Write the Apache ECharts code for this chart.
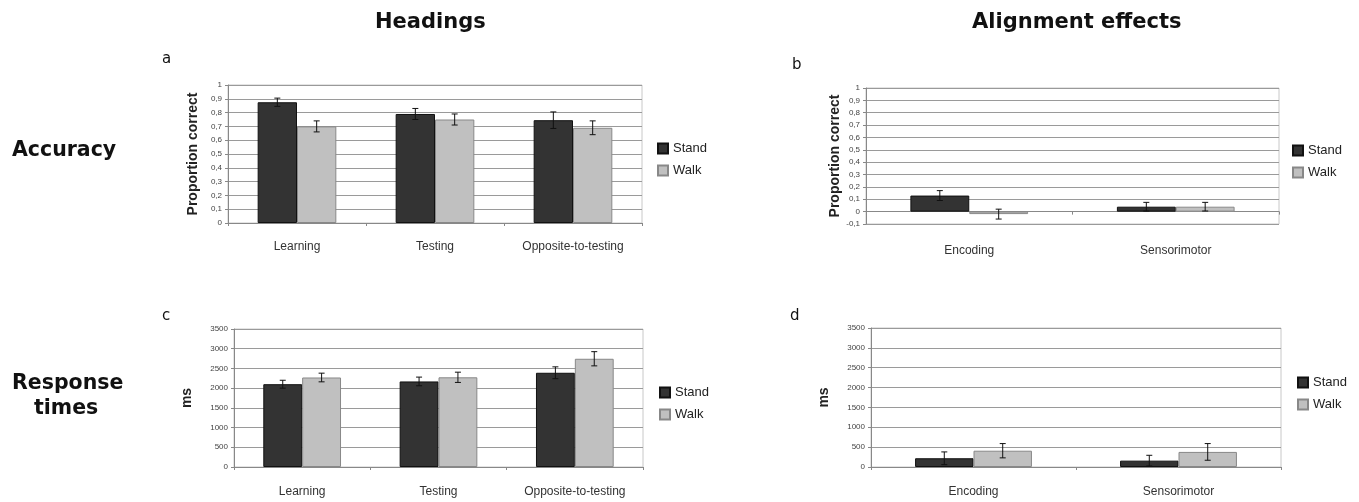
<!DOCTYPE html>
<html><head><meta charset="utf-8">
<script src="https://cdn.jsdelivr.net/npm/echarts@6/dist/echarts.min.js"></script>
<style>html,body{margin:0;padding:0;background:#fff}#c{width:1359px;height:502px}</style>
</head><body><div id="c"></div>
<script>
const headingCats = ['Learning', 'Testing', 'Opposite-to-testing'];
const alignCats = ['Encoding', 'Sensorimotor'];
const seriesNames = ['Stand', 'Walk'];

const accHeadStand = [0.875, 0.79, 0.745];
const accHeadStandErr = [0.03, 0.04, 0.06];
const accHeadWalk = [0.70, 0.75, 0.69];
const accHeadWalkErr = [0.04, 0.04, 0.05];

const accAlignStand = [0.13, 0.04];
const accAlignStandErr = [0.04, 0.035];
const accAlignWalk = [-0.02, 0.04];
const accAlignWalkErr = [0.04, 0.035];

const rtHeadStand = [2100, 2170, 2390];
const rtHeadStandErr = [100, 110, 150];
const rtHeadWalk = [2270, 2275, 2745];
const rtHeadWalkErr = [110, 130, 180];

const rtAlignStand = [220, 160];
const rtAlignStandErr = [160, 135];
const rtAlignWalk = [410, 380];
const rtAlignWalkErr = [180, 210];

const GAP = 0.43;
const FONT = '"Liberation Sans", Arial, sans-serif';
const standStyle = {color: '#333333', borderColor: '#111111', borderWidth: 1};
const walkStyle = {color: '#c0c0c0', borderColor: '#888888', borderWidth: 1};

const grids = [
  {left: 228, top: 85, width: 414, height: 138},
  {left: 866, top: 88, width: 413, height: 136},
  {left: 234, top: 329, width: 409, height: 138},
  {left: 871, top: 328, width: 410, height: 139}
].map(g => Object.assign({show: true, borderColor: '#c8c8c8', borderWidth: 1, containLabel: false}, g));

function xAx(i, cats, margin) {
  return {
    gridIndex: i, type: 'category', data: cats,
    axisLine: {show: true, onZero: true, lineStyle: {color: '#888', width: 1}},
    axisTick: {show: true, length: 3, lineStyle: {color: '#888'}},
    axisLabel: {fontFamily: FONT, fontSize: 12, color: '#333', margin: margin}
  };
}
function yAx(i, min, max, interval, name, nameGap, isDec) {
  return {
    gridIndex: i, type: 'value', min: min, max: max, interval: interval,
    name: name, nameLocation: 'middle', nameGap: nameGap, nameRotate: 90,
    nameTextStyle: {fontFamily: FONT, fontSize: 14, fontWeight: 'bold', color: '#222'},
    axisLine: {show: true, lineStyle: {color: '#888'}},
    axisTick: {show: true, length: 3, lineStyle: {color: '#888'}},
    splitLine: {show: true, lineStyle: {color: '#9a9a9a', width: 1}},
    axisLabel: {fontFamily: FONT, fontSize: 8, color: '#444', margin: 6,
      formatter: v => isDec ? String(Math.round(v * 10) / 10).replace('.', ',') : String(Math.round(v))}
  };
}

function bars(i, name, vals, style) {
  return {type: 'bar', name: name, xAxisIndex: i, yAxisIndex: i, data: vals,
    barGap: '0%', barCategoryGap: (GAP * 100) + '%', itemStyle: style, z: 2};
}
function errs(i, vals, errsArr, which) {
  return {
    type: 'custom', xAxisIndex: i, yAxisIndex: i, z: 5, silent: true,
    data: vals.map((v, k) => [k, v, errsArr[k]]),
    renderItem: function (params, api) {
      const k = api.value(0), v = api.value(1), e = api.value(2);
      const c = api.coord([k, v]);
      const catW = api.size([1, 0])[0];
      const bw = catW * (1 - GAP) / 2;
      const x = c[0] + (which === 0 ? -bw / 2 : bw / 2);
      const yTop = api.coord([k, v + e])[1];
      const yBot = api.coord([k, v - e])[1];
      const cap = 3;
      const st = {stroke: '#111', lineWidth: 1};
      return {type: 'group', children: [
        {type: 'line', shape: {x1: x, y1: yTop, x2: x, y2: yBot}, style: st},
        {type: 'line', shape: {x1: x - cap, y1: yTop, x2: x + cap, y2: yTop}, style: st},
        {type: 'line', shape: {x1: x - cap, y1: yBot, x2: x + cap, y2: yBot}, style: st}
      ]};
    }
  };
}

function legend(left, top) {
  return {left: left, top: top, orient: 'vertical', icon: 'rect', itemWidth: 10, itemHeight: 10,
    itemGap: 9, data: seriesNames, selectedMode: false,
    textStyle: {fontFamily: FONT, fontSize: 13, color: '#222', padding: [0, 0, 0, 0]}};
}

function txt(x, y, s, size, weight, align) {
  return {type: 'text', left: x, top: y, style: {text: s, fontFamily: '"DejaVu Sans", sans-serif',
    fontSize: size, fontWeight: weight || 'normal', fill: '#111', textAlign: align || 'left'}};
}

const option = {
  backgroundColor: '#fff',
  animation: false,
  grid: grids,
  xAxis: [xAx(0, headingCats, 18), xAx(1, alignCats, 21), xAx(2, headingCats, 19), xAx(3, alignCats, 19)],
  yAxis: [
    yAx(0, 0, 1, 0.1, 'Proportion correct', 28, true),
    yAx(1, -0.1, 1, 0.1, 'Proportion correct', 23, true),
    yAx(2, 0, 3500, 500, 'ms', 40, false),
    yAx(3, 0, 3500, 500, 'ms', 40, false)
  ],
  legend: [legend(652, 137), legend(1287, 139), legend(654, 381), legend(1292, 371)],
  series: [
    bars(0, 'Stand', accHeadStand, standStyle), bars(0, 'Walk', accHeadWalk, walkStyle),
    errs(0, accHeadStand, accHeadStandErr, 0), errs(0, accHeadWalk, accHeadWalkErr, 1),
    bars(1, 'Stand', accAlignStand, standStyle), bars(1, 'Walk', accAlignWalk, walkStyle),
    errs(1, accAlignStand, accAlignStandErr, 0), errs(1, accAlignWalk, accAlignWalkErr, 1),
    bars(2, 'Stand', rtHeadStand, standStyle), bars(2, 'Walk', rtHeadWalk, walkStyle),
    errs(2, rtHeadStand, rtHeadStandErr, 0), errs(2, rtHeadWalk, rtHeadWalkErr, 1),
    bars(3, 'Stand', rtAlignStand, standStyle), bars(3, 'Walk', rtAlignWalk, walkStyle),
    errs(3, rtAlignStand, rtAlignStandErr, 0), errs(3, rtAlignWalk, rtAlignWalkErr, 1)
  ],
  graphic: [
    txt(375, 12, 'Headings', 21, 'bold'),
    txt(972, 12, 'Alignment effects', 21, 'bold'),
    txt(12, 140, 'Accuracy', 20.5, 'bold'),
    txt(12, 373, 'Response', 20.5, 'bold'),
    txt(34, 398, 'times', 20.5, 'bold'),
    txt(162, 52, 'a', 15),
    txt(792, 58, 'b', 15),
    txt(162, 309, 'c', 15),
    txt(790, 309, 'd', 15)
  ]
};
echarts.init(document.getElementById('c')).setOption(option);
</script></body></html>
